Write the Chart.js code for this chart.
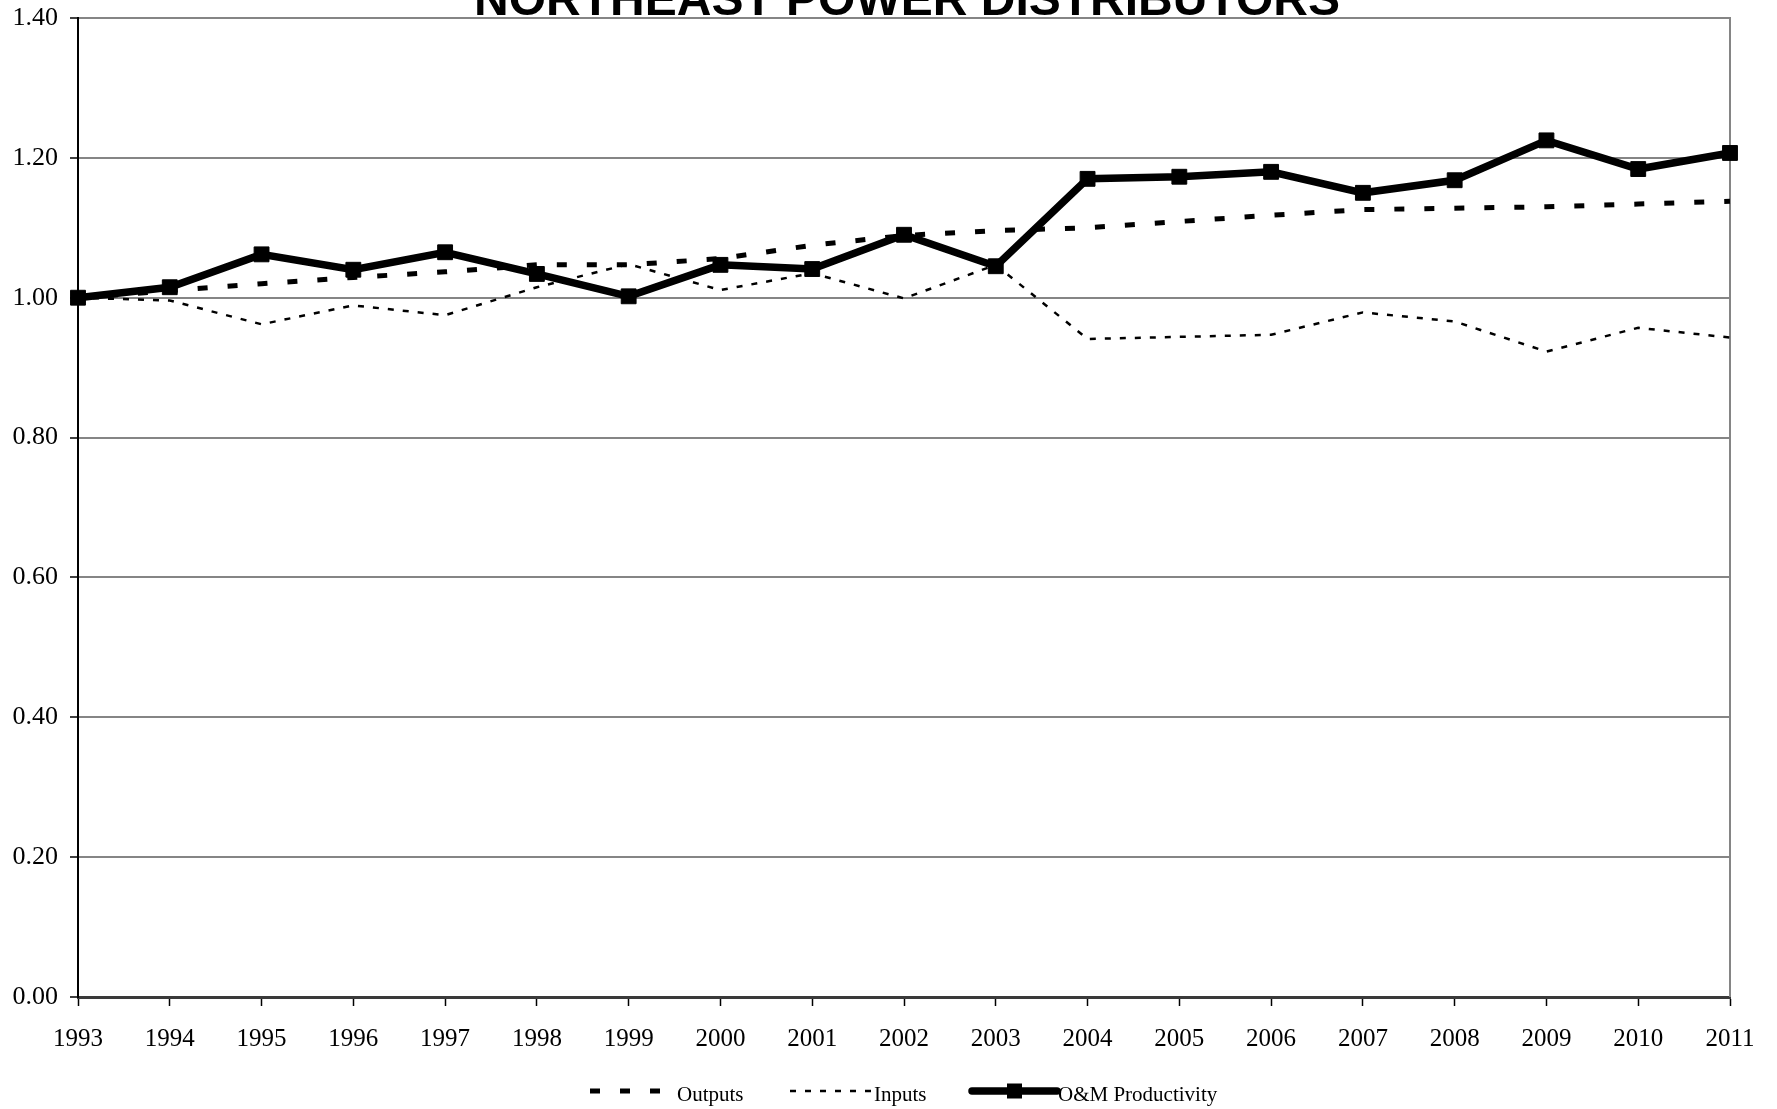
<!DOCTYPE html>
<html>
<head>
<meta charset="utf-8">
<title>Northeast Power Distributors</title>
<script src="https://cdn.jsdelivr.net/npm/chart.js@4.4.1/dist/chart.umd.min.js"></script>
<style>
  html, body { margin: 0; padding: 0; background: #ffffff; }
  canvas { display: block; }
</style>
</head>
<body>
<canvas id="chart" width="1777" height="1109"></canvas>
<script>
// Index values, 1993 = 1.00
const years = ['1993', '1994', '1995', '1996', '1997', '1998', '1999', '2000', '2001', '2002',
               '2003', '2004', '2005', '2006', '2007', '2008', '2009', '2010', '2011'];
const outputs = [1.000, 1.010, 1.020, 1.029, 1.037, 1.047, 1.047, 1.056, 1.075, 1.089,
                 1.096, 1.100, 1.109, 1.118, 1.126, 1.128, 1.130, 1.134, 1.138];
const inputs = [1.000, 0.996, 0.962, 0.989, 0.975, 1.015, 1.048, 1.011, 1.035, 0.999,
                1.047, 0.941, 0.944, 0.947, 0.979, 0.966, 0.923, 0.957, 0.943];
const productivity = [1.000, 1.015, 1.062, 1.040, 1.065, 1.034, 1.002, 1.047, 1.041, 1.090,
                      1.045, 1.170, 1.173, 1.180, 1.150, 1.168, 1.225, 1.184, 1.207];
const yTicks = { min: 0, max: 1.4, step: 0.2 };
const titleText = 'NORTHEAST POWER DISTRIBUTORS';
const seriesNames = ['Outputs', 'Inputs', 'O&M Productivity'];

const serif = '"Liberation Serif", "Times New Roman", serif';

// Title sits at the very top of the canvas, partly above the edge
const titlePlugin = {
  id: 'topTitle',
  afterDraw(chart) {
    const ctx = chart.ctx;
    ctx.save();
    ctx.font = 'bold 48px "Liberation Sans", Arial, sans-serif';
    ctx.fillStyle = '#000';
    ctx.textAlign = 'center';
    ctx.textBaseline = 'alphabetic';
    ctx.fillText(titleText, 907, 15);
    ctx.restore();
  }
};

// Gray frame line along the right edge of the plot area
const framePlugin = {
  id: 'rightFrame',
  beforeDatasetsDraw(chart) {
    const { ctx, chartArea } = chart;
    ctx.save();
    ctx.strokeStyle = '#858585';
    ctx.lineWidth = 2;
    ctx.beginPath();
    ctx.moveTo(chartArea.right, chartArea.top - 1);
    ctx.lineTo(chartArea.right, chartArea.bottom);
    ctx.stroke();
    ctx.restore();
  }
};

// Line-sample key underneath the axis
const keyPlugin = {
  id: 'lineKey',
  afterDraw(chart) {
    const ctx = chart.ctx;
    const ds = chart.data.datasets;
    const y = 1091;
    const items = [
      { ds: ds[1], x0: 590, x1: 664, tx: 677 },
      { ds: ds[2], x0: 790, x1: 873, tx: 874 },
      { ds: ds[0], x0: 972, x1: 1057, tx: 1058, marker: true }
    ];
    ctx.save();
    items.forEach(it => {
      ctx.strokeStyle = it.ds.borderColor;
      ctx.lineWidth = it.ds.borderWidth;
      ctx.setLineDash(it.ds.borderDash || []);
      ctx.lineCap = it.marker ? 'round' : 'butt';
      ctx.beginPath();
      ctx.moveTo(it.x0, y);
      ctx.lineTo(it.x1, y);
      ctx.stroke();
      ctx.setLineDash([]);
      if (it.marker) {
        ctx.fillStyle = '#000';
        ctx.fillRect((it.x0 + it.x1) / 2 - 7.5, y - 7.5, 15, 15);
      }
      ctx.fillStyle = '#000';
      ctx.font = '21px ' + serif;
      ctx.textAlign = 'left';
      ctx.textBaseline = 'alphabetic';
      ctx.fillText(it.ds.label, it.tx, 1101);
    });
    ctx.restore();
  }
};

new Chart(document.getElementById('chart'), {
  type: 'line',
  data: {
    labels: years,
    datasets: [
      {
        label: seriesNames[2],
        data: productivity,
        borderColor: '#000',
        backgroundColor: '#000',
        borderWidth: 7.5,
        tension: 0,
        pointStyle: 'rect',
        pointRadius: 10.5,
        pointBorderWidth: 1,
        pointBackgroundColor: '#000',
        pointBorderColor: '#000',
        clip: false,
        order: 0
      },
      {
        label: seriesNames[0],
        data: outputs,
        borderColor: '#000',
        borderWidth: 5,
        borderDash: [10, 20],
        borderCapStyle: 'butt',
        tension: 0,
        pointRadius: 0,
        clip: false,
        order: 1
      },
      {
        label: seriesNames[1],
        data: inputs,
        borderColor: '#000',
        borderWidth: 2.5,
        borderDash: [6, 9],
        borderCapStyle: 'butt',
        tension: 0,
        pointRadius: 0,
        clip: false,
        order: 2
      }
    ]
  },
  options: {
    responsive: false,
    animation: false,
    layout: { padding: { top: 18, right: 47, left: 0, bottom: 0 } },
    plugins: {
      legend: { display: false },
      title: { display: false },
      tooltip: { enabled: false }
    },
    scales: {
      x: {
        type: 'category',
        offset: false,
        grid: {
          drawOnChartArea: false,
          drawTicks: true,
          tickLength: 9,
          tickColor: '#000',
          tickWidth: 1.5
        },
        border: { display: true, color: '#3a3a3a', width: 3 },
        ticks: {
          color: '#000',
          font: { family: serif, size: 25 },
          padding: 18,
          maxRotation: 0,
          autoSkip: false
        },
        afterFit(scale) {
          scale.height = 112;
          scale.paddingLeft = 0;
          scale.paddingRight = 0;
        }
      },
      y: {
        min: yTicks.min,
        max: yTicks.max,
        grid: {
          color: '#858585',
          lineWidth: 2,
          drawTicks: true,
          tickLength: 8,
          tickColor: '#000',
          tickWidth: 1.5
        },
        border: { display: true, color: '#000', width: 2 },
        ticks: {
          stepSize: yTicks.step,
          color: '#000',
          font: { family: serif, size: 26 },
          padding: 12,
          callback: v => Number(v).toFixed(2)
        },
        afterFit(scale) {
          scale.width = 78;
          scale.paddingTop = 0;
          scale.paddingBottom = 0;
        }
      }
    }
  },
  plugins: [framePlugin, titlePlugin, keyPlugin]
});
</script>
</body>
</html>
